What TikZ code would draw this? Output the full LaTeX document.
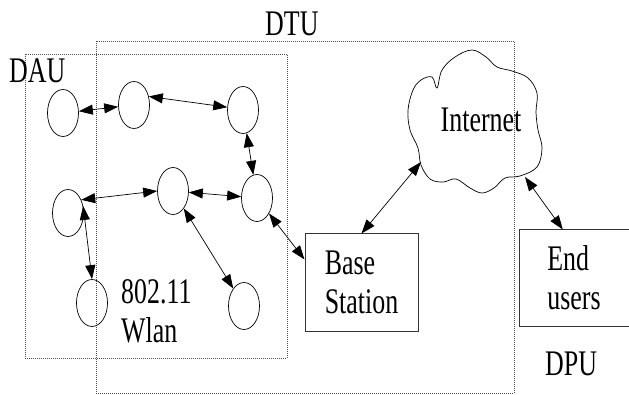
\documentclass[tikz,border=0pt]{standalone}
\usepackage{fontspec}
\setmainfont{Liberation Serif}[FakeStretch=0.72]
\usetikzlibrary{shapes.geometric,arrows.meta}

\begin{document}
\begin{tikzpicture}[x=1pt,y=-1pt,
    station/.style={ellipse,draw,line width=0.7pt,minimum width=31pt,minimum height=47pt,inner sep=0pt},
    unit/.style={draw=black!70,line width=0.9pt,dash pattern=on 1pt off 1pt},
    box/.style={draw=black!80,line width=1pt,align=center},
    link/.style={{Triangle[length=14pt,width=10pt]}-{Triangle[length=14pt,width=10pt]},line width=0.7pt},
    lbl/.style={font=\fontsize{36}{39}\selectfont,inner sep=0pt,align=left}]
    \useasboundingbox (0,0) rectangle (629,395);
    % the two units
    \draw[unit] (96,41) rectangle (514,393);
    \draw[unit] (25,54) rectangle (287,358);
    \node[lbl,anchor=base west] (dtu) at (265,36) {DTU};
    \node[lbl,anchor=base west] (dau) at (9,83) {DAU};
    \node[lbl,anchor=base west] (dpu) at (545,375) {DPU};
    \node[lbl,anchor=north west] (wlan) at (121,279) {802.11\\Wlan};
    % wlan stations
    \node[station] (n1) at (63,113) {};
    \node[station] (n2) at (134,105) {};
    \node[station] (n3) at (243,110) {};
    \node[station] (n4) at (68,213) {};
    \node[station] (n5) at (173,191) {};
    \node[station] (n6) at (257,198) {};
    \node[station] (n7) at (92,303) {};
    \node[station] (n8) at (244,306) {};
    % boxes
    \node[box,lbl,minimum width=113pt,minimum height=97pt] (bs) at (361.5,282.5) {\raisebox{-5pt}{Base}\\\raisebox{-5pt}{Station}};
    \node[box,lbl,minimum width=110pt,minimum height=96pt] (users) at (574,278) {End\\users};
    % internet cloud
    \draw[line width=0.7pt] plot[smooth cycle,tension=0.6] coordinates {
        (437,88) (442,70) (455,57) (472,50) (486,57) (497,67) (512,71) (528,78)
        (537,93) (536,112) (538,130) (542,148) (537,167) (520,176) (505,178)
        (494,188) (482,193) (470,188) (456,179) (443,182) (430,179) (421,165)
        (418,148) (410,130) (408,110) (413,90) (421,80) (432,77)};
    \node[lbl] (net) at (481,120) {Internet};
    \coordinate (netsw) at (421,162);
    \coordinate (netse) at (525,177);
    % links
    \draw[link] (n1) -- (n2);
    \draw[link] (n2.30) -- (n3.170);
    \draw[link] (n3) -- (n6);
    \draw[link] (n4.45) -- (n5.180);
    \draw[link] (n5) -- (n6);
    \draw[link] (n4.25) -- (n7.north);
    \draw[link] (n5) -- (n8);
    \draw[link] (n6) -- (bs.158);
    \draw[link] (bs.north) -- (netsw);
    \draw[link] (netse) -- (users.103);
\end{tikzpicture}
\end{document}
